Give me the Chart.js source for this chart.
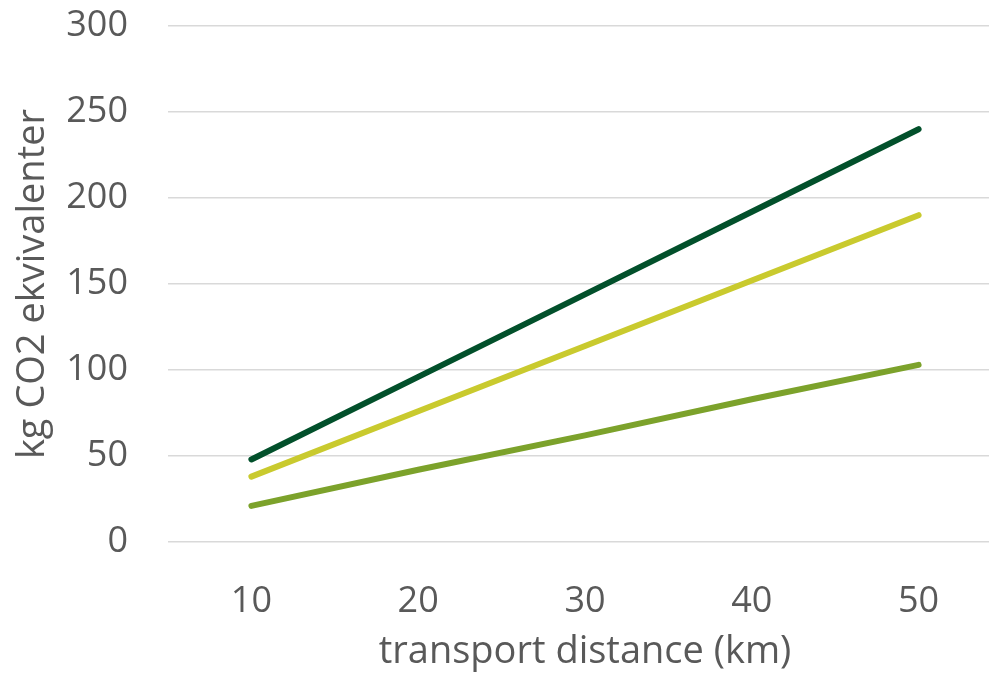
<!DOCTYPE html>
<html>
<head>
<meta charset="utf-8">
<script src="https://cdn.jsdelivr.net/npm/chart.js@4"></script>
<style>
  html, body { margin: 0; padding: 0; background: #fff; overflow: hidden; }
  #wrap { width: 1002px; height: 677px; }
</style>
</head>
<body>
<div id="wrap"><canvas id="co2-chart"></canvas></div>
<script>
var distances = ['10', '20', '30', '40', '50']
var serieMorkGron = [48, 96, 144, 192, 240]
var serieGul = [38, 76, 114, 152, 190]
var serieGron = [21, 42, 62, 83, 103]
var yTicks = [0, 50, 100, 150, 200, 250, 300]

var textColor = '#595959'
var font = { family: "'Open Sans', sans-serif", size: 36 }
var titleFont = { family: "'Open Sans', sans-serif", size: 38 }

var ctx = document.getElementById('co2-chart')
var co2Chart = new Chart(ctx, {
  type: 'line',
  data: {
    labels: distances,
    datasets: [{
      label: 'serie 1',
      data: serieMorkGron,
      borderColor: '#02502B',
      borderWidth: 6
    }, {
      label: 'serie 2',
      data: serieGul,
      borderColor: '#C9CA2E',
      borderWidth: 6
    }, {
      label: 'serie 3',
      data: serieGron,
      borderColor: '#7CA22B',
      borderWidth: 6
    }]
  },
  options: {
    responsive: true,
    maintainAspectRatio: false,
    animation: false,
    layout: { padding: { top: 26, right: 0, bottom: 0, left: 0 } },
    elements: {
      point: { radius: 0 },
      line: { tension: 0, borderCapStyle: 'round', borderJoinStyle: 'round' }
    },
    plugins: {
      legend: { display: false },
      tooltip: { enabled: false }
    },
    scales: {
      x: {
        offset: true,
        grid: { display: false, drawTicks: false },
        border: { display: false },
        ticks: { color: textColor, font: font, padding: 38 },
        title: {
          display: true,
          text: 'transport distance (km)',
          color: textColor,
          font: titleFont,
          padding: { top: 0, bottom: 2 }
        },
        afterFit: function (axis) { axis.height = 135 }
      },
      y: {
        min: 0,
        max: 300,
        afterBuildTicks: function (axis) {
          axis.ticks = yTicks.map(function (v) { return { value: v } })
        },
        grid: { color: '#D9D9D9', lineWidth: 1.5, drawTicks: false },
        border: { display: false },
        ticks: { color: textColor, font: font, padding: 40 },
        title: {
          display: true,
          text: 'kg CO2 ekvivalenter',
          color: textColor,
          font: titleFont,
          padding: { top: 10, bottom: 0 }
        },
        afterFit: function (axis) {
          axis.width = 168
          // tick padding should not push the plot down
          axis.paddingTop = 0
          axis.paddingBottom = 0
        }
      }
    }
  }
})
</script>
</body>
</html>
